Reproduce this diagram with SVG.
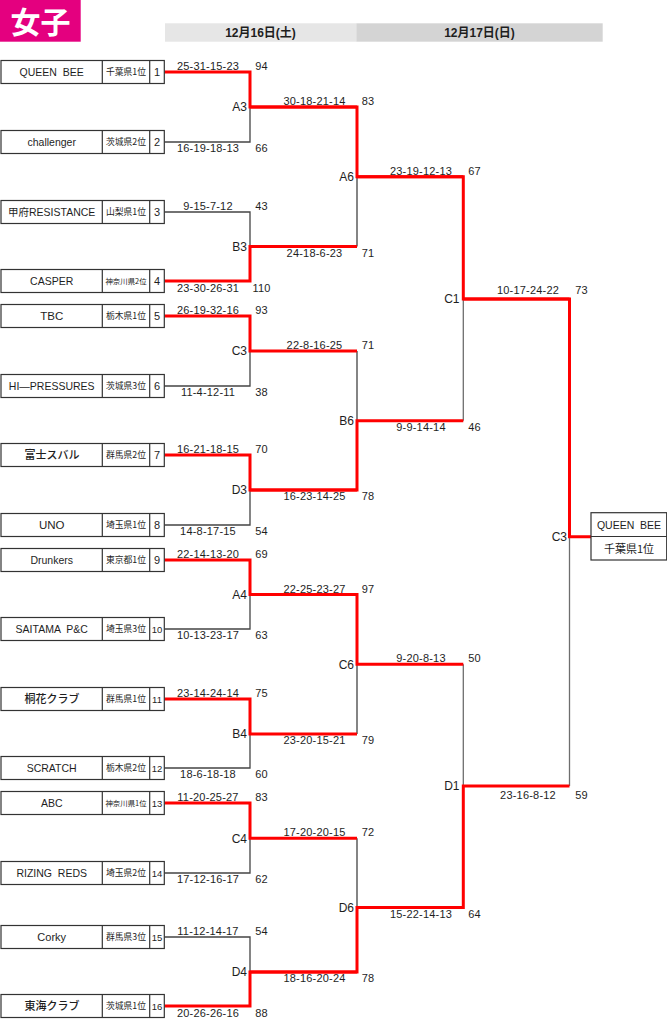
<svg xmlns="http://www.w3.org/2000/svg" width="667" height="1024" viewBox="0 0 667 1024">
<style>
.bx rect,.bx line{fill:#fff;stroke:#333;stroke-width:1.2}
text{fill:#1e1e1e}
.nm{font-family:"Liberation Sans","Noto Sans CJK JP",sans-serif;font-size:10.5px;text-anchor:middle}
.jp{font-family:"Noto Sans CJK JP",sans-serif;font-size:11px;font-weight:500;text-anchor:middle}
.pf{font-family:"Noto Sans CJK JP",sans-serif;font-size:8.8px;text-anchor:middle}
.pf6{font-size:7.4px}
.no{font-family:"Liberation Sans",sans-serif;font-size:11px;text-anchor:middle}
.no2{font-size:9.5px}
.sc{font-family:"Liberation Sans",sans-serif;font-size:11px;letter-spacing:0.2px;text-anchor:middle}
.rd{font-family:"Liberation Sans",sans-serif;font-size:12px;text-anchor:end}
.red{fill:none;stroke:#ff0000;stroke-width:3;stroke-linejoin:miter}
.gr{fill:none;stroke:#444;stroke-width:1.3}
.gr2{fill:none;stroke:#6e6e6e;stroke-width:1.3}
.hd{font-family:"Liberation Sans","Noto Sans CJK JP",sans-serif;font-size:12px;font-weight:bold;text-anchor:middle}
</style>
<rect width="667" height="1024" fill="#fff"/>
<g id="header">
<rect x="0" y="0" width="80.7" height="41.7" fill="#e4007f"/>
<text x="40.5" y="33" style="font-family:'Noto Sans CJK JP',sans-serif;font-size:30px;font-weight:bold;text-anchor:middle;fill:#fff">女子</text>
<rect x="165" y="23.3" width="191.3" height="18.4" fill="#e6e6e6"/>
<text class="hd" x="260.5" y="37">12月16日(土)</text>
<rect x="356.3" y="23.3" width="246.4" height="18.4" fill="#d4d4d4"/>
<text class="hd" x="479.5" y="37">12月17日(日)</text>
</g>
<g id="connectors">
<path class="gr" d="M164.3,142H250V107M164.3,212H250V246.5M164.3,386H250V351M164.3,525H250V490M164.3,629H250V594.5M164.3,768H250V734M164.3,873H250V838.3M164.3,937H250V972"/>
<path class="gr" d="M357,246.5V176.7M357,351V420.7M357,734V664.3M357,838.3V907.5"/>
<path class="gr2" d="M463.3,420.7V299M463.3,664.3V786M569.5,786V536.7"/>
<path class="red" d="M164.3,72H250V107H357"/>
<path class="red" d="M164.3,281H250V246.5H357"/>
<path class="red" d="M164.3,316H250V351H357"/>
<path class="red" d="M164.3,455H250V490H357"/>
<path class="red" d="M164.3,560H250V594.5H357"/>
<path class="red" d="M164.3,699H250V734H357"/>
<path class="red" d="M164.3,803H250V838.3H357"/>
<path class="red" d="M164.3,1006H250V972H357"/>
<path class="red" d="M250,107H357V176.7H463.3"/>
<path class="red" d="M250,490H357V420.7H463.3"/>
<path class="red" d="M250,594.5H357V664.3H463.3"/>
<path class="red" d="M250,972H357V907.5H463.3"/>
<path class="red" d="M357,176.7H463.3V299H569.5"/>
<path class="red" d="M357,907.5H463.3V786H569.5"/>
<path class="red" d="M463.3,299H569.5V536.7H591"/>
</g>
<g id="team1" class="bx"><rect x="1" y="60.5" width="163.3" height="23"/><line x1="102.3" y1="60.5" x2="102.3" y2="83.5"/><line x1="149.7" y1="60.5" x2="149.7" y2="83.5"/><text class="nm" x="51.7" y="75.8" xml:space="preserve">QUEEN  BEE</text><text class="pf" x="126" y="75.2">千葉県1位</text><text class="no" x="157" y="76">1</text></g>
<g id="team2" class="bx"><rect x="1" y="130.5" width="163.3" height="23"/><line x1="102.3" y1="130.5" x2="102.3" y2="153.5"/><line x1="149.7" y1="130.5" x2="149.7" y2="153.5"/><text class="nm" x="51.7" y="145.8">challenger</text><text class="pf" x="126" y="145.2">茨城県2位</text><text class="no" x="157" y="146">2</text></g>
<g id="team3" class="bx"><rect x="1" y="200.5" width="163.3" height="23"/><line x1="102.3" y1="200.5" x2="102.3" y2="223.5"/><line x1="149.7" y1="200.5" x2="149.7" y2="223.5"/><text class="nm" x="51.7" y="215.8">甲府RESISTANCE</text><text class="pf" x="126" y="215.2">山梨県1位</text><text class="no" x="157" y="216">3</text></g>
<g id="team4" class="bx"><rect x="1" y="269.5" width="163.3" height="23"/><line x1="102.3" y1="269.5" x2="102.3" y2="292.5"/><line x1="149.7" y1="269.5" x2="149.7" y2="292.5"/><text class="nm" x="51.7" y="284.8">CASPER</text><text class="pf pf6" x="126" y="283.8">神奈川県2位</text><text class="no" x="157" y="285">4</text></g>
<g id="team5" class="bx"><rect x="1" y="304.5" width="163.3" height="23"/><line x1="102.3" y1="304.5" x2="102.3" y2="327.5"/><line x1="149.7" y1="304.5" x2="149.7" y2="327.5"/><text class="nm" x="51.7" y="320.2" style="font-size:11.5px">TBC</text><text class="pf" x="126" y="319.2">栃木県1位</text><text class="no" x="157" y="320">5</text></g>
<g id="team6" class="bx"><rect x="1" y="374.5" width="163.3" height="23"/><line x1="102.3" y1="374.5" x2="102.3" y2="397.5"/><line x1="149.7" y1="374.5" x2="149.7" y2="397.5"/><text class="nm" x="51.7" y="389.8">HI—PRESSURES</text><text class="pf" x="126" y="389.2">茨城県3位</text><text class="no" x="157" y="390">6</text></g>
<g id="team7" class="bx"><rect x="1" y="443.5" width="163.3" height="23"/><line x1="102.3" y1="443.5" x2="102.3" y2="466.5"/><line x1="149.7" y1="443.5" x2="149.7" y2="466.5"/><text class="jp" x="52" y="459">富士スバル</text><text class="pf" x="126" y="458.2">群馬県2位</text><text class="no" x="157" y="459">7</text></g>
<g id="team8" class="bx"><rect x="1" y="513.5" width="163.3" height="23"/><line x1="102.3" y1="513.5" x2="102.3" y2="536.5"/><line x1="149.7" y1="513.5" x2="149.7" y2="536.5"/><text class="nm" x="51.7" y="529.2" style="font-size:11.5px">UNO</text><text class="pf" x="126" y="528.2">埼玉県1位</text><text class="no" x="157" y="529">8</text></g>
<g id="team9" class="bx"><rect x="1" y="548.5" width="163.3" height="23"/><line x1="102.3" y1="548.5" x2="102.3" y2="571.5"/><line x1="149.7" y1="548.5" x2="149.7" y2="571.5"/><text class="nm" x="51.7" y="563.8">Drunkers</text><text class="pf" x="126" y="563.2">東京都1位</text><text class="no" x="157" y="564">9</text></g>
<g id="team10" class="bx"><rect x="1" y="617.5" width="163.3" height="23"/><line x1="102.3" y1="617.5" x2="102.3" y2="640.5"/><line x1="149.7" y1="617.5" x2="149.7" y2="640.5"/><text class="nm" x="51.7" y="632.8" xml:space="preserve">SAITAMA  P&amp;C</text><text class="pf" x="126" y="632.2">埼玉県3位</text><text class="no no2" x="157" y="632.5">10</text></g>
<g id="team11" class="bx"><rect x="1" y="687.5" width="163.3" height="23"/><line x1="102.3" y1="687.5" x2="102.3" y2="710.5"/><line x1="149.7" y1="687.5" x2="149.7" y2="710.5"/><text class="jp" x="52" y="703">桐花クラブ</text><text class="pf" x="126" y="702.2">群馬県1位</text><text class="no no2" x="157" y="702.5">11</text></g>
<g id="team12" class="bx"><rect x="1" y="756.5" width="163.3" height="23"/><line x1="102.3" y1="756.5" x2="102.3" y2="779.5"/><line x1="149.7" y1="756.5" x2="149.7" y2="779.5"/><text class="nm" x="51.7" y="771.8">SCRATCH</text><text class="pf" x="126" y="771.2">栃木県2位</text><text class="no no2" x="157" y="771.5">12</text></g>
<g id="team13" class="bx"><rect x="1" y="791.5" width="163.3" height="23"/><line x1="102.3" y1="791.5" x2="102.3" y2="814.5"/><line x1="149.7" y1="791.5" x2="149.7" y2="814.5"/><text class="nm" x="51.7" y="806.8">ABC</text><text class="pf pf6" x="126" y="805.8">神奈川県1位</text><text class="no no2" x="157" y="806.5">13</text></g>
<g id="team14" class="bx"><rect x="1" y="861.5" width="163.3" height="23"/><line x1="102.3" y1="861.5" x2="102.3" y2="884.5"/><line x1="149.7" y1="861.5" x2="149.7" y2="884.5"/><text class="nm" x="51.7" y="876.8" xml:space="preserve">RIZING  REDS</text><text class="pf" x="126" y="876.2">埼玉県2位</text><text class="no no2" x="157" y="876.5">14</text></g>
<g id="team15" class="bx"><rect x="1" y="925.5" width="163.3" height="23"/><line x1="102.3" y1="925.5" x2="102.3" y2="948.5"/><line x1="149.7" y1="925.5" x2="149.7" y2="948.5"/><text class="nm" x="51.7" y="940.8" style="font-size:11px">Corky</text><text class="pf" x="126" y="940.2">群馬県3位</text><text class="no no2" x="157" y="940.5">15</text></g>
<g id="team16" class="bx"><rect x="1" y="994.5" width="163.3" height="23"/><line x1="102.3" y1="994.5" x2="102.3" y2="1017.5"/><line x1="149.7" y1="994.5" x2="149.7" y2="1017.5"/><text class="jp" x="52" y="1010">東海クラブ</text><text class="pf" x="126" y="1009.2">茨城県1位</text><text class="no no2" x="157" y="1009.5">16</text></g>
<g id="champion" class="bx"><rect x="591" y="512.7" width="75.7" height="47.3"/><line x1="591" y1="536.5" x2="666.7" y2="536.5"/><text class="nm" x="629" y="528.5" xml:space="preserve">QUEEN  BEE</text><text class="pf" x="629" y="552.5" style="font-size:11px">千葉県1位</text></g>
<g id="round-labels">
<text class="rd" x="247" y="111.3">A3</text>
<text class="rd" x="247" y="250.8">B3</text>
<text class="rd" x="247" y="355.3">C3</text>
<text class="rd" x="247" y="494.3">D3</text>
<text class="rd" x="247" y="598.8">A4</text>
<text class="rd" x="247" y="738.3">B4</text>
<text class="rd" x="247" y="842.6">C4</text>
<text class="rd" x="247" y="976.3">D4</text>
<text class="rd" x="354" y="181">A6</text>
<text class="rd" x="354" y="425">B6</text>
<text class="rd" x="354" y="668.6">C6</text>
<text class="rd" x="354" y="911.8">D6</text>
<text class="rd" x="459.5" y="303.3">C1</text>
<text class="rd" x="459.5" y="790.3">D1</text>
<text class="rd" x="567" y="541">C3</text>
</g>
<g id="scores">
<text class="sc" x="208" y="70">25-31-15-23</text><text class="sc" x="261.5" y="70">94</text>
<text class="sc" x="208" y="151.7">16-19-18-13</text><text class="sc" x="261.5" y="151.7">66</text>
<text class="sc" x="208" y="210">9-15-7-12</text><text class="sc" x="261.5" y="210">43</text>
<text class="sc" x="208" y="291.5">23-30-26-31</text><text class="sc" x="261.5" y="291.5">110</text>
<text class="sc" x="208" y="314">26-19-32-16</text><text class="sc" x="261.5" y="314">93</text>
<text class="sc" x="208" y="396">11-4-12-11</text><text class="sc" x="261.5" y="396">38</text>
<text class="sc" x="208" y="453">16-21-18-15</text><text class="sc" x="261.5" y="453">70</text>
<text class="sc" x="208" y="535">14-8-17-15</text><text class="sc" x="261.5" y="535">54</text>
<text class="sc" x="208" y="558">22-14-13-20</text><text class="sc" x="261.5" y="558">69</text>
<text class="sc" x="208" y="639">10-13-23-17</text><text class="sc" x="261.5" y="639">63</text>
<text class="sc" x="208" y="697">23-14-24-14</text><text class="sc" x="261.5" y="697">75</text>
<text class="sc" x="208" y="778">18-6-18-18</text><text class="sc" x="261.5" y="778">60</text>
<text class="sc" x="208" y="801">11-20-25-27</text><text class="sc" x="261.5" y="801">83</text>
<text class="sc" x="208" y="883">17-12-16-17</text><text class="sc" x="261.5" y="883">62</text>
<text class="sc" x="208" y="935">11-12-14-17</text><text class="sc" x="261.5" y="935">54</text>
<text class="sc" x="208" y="1016.5">20-26-26-16</text><text class="sc" x="261.5" y="1016.5">88</text>
<text class="sc" x="314.5" y="105">30-18-21-14</text><text class="sc" x="368" y="105">83</text>
<text class="sc" x="314.5" y="256.5">24-18-6-23</text><text class="sc" x="368" y="256.5">71</text>
<text class="sc" x="314.5" y="349">22-8-16-25</text><text class="sc" x="368" y="349">71</text>
<text class="sc" x="314.5" y="500">16-23-14-25</text><text class="sc" x="368" y="500">78</text>
<text class="sc" x="314.5" y="592.5">22-25-23-27</text><text class="sc" x="368" y="592.5">97</text>
<text class="sc" x="314.5" y="744">23-20-15-21</text><text class="sc" x="368" y="744">79</text>
<text class="sc" x="314.5" y="836.3">17-20-20-15</text><text class="sc" x="368" y="836.3">72</text>
<text class="sc" x="314.5" y="982">18-16-20-24</text><text class="sc" x="368" y="982">78</text>
<text class="sc" x="421" y="174.7">23-19-12-13</text><text class="sc" x="474.5" y="174.7">67</text>
<text class="sc" x="421" y="430.5">9-9-14-14</text><text class="sc" x="474.5" y="430.5">46</text>
<text class="sc" x="421" y="662.3">9-20-8-13</text><text class="sc" x="474.5" y="662.3">50</text>
<text class="sc" x="421" y="917.7">15-22-14-13</text><text class="sc" x="474.5" y="917.7">64</text>
<text class="sc" x="528" y="294">10-17-24-22</text><text class="sc" x="581.5" y="294">73</text>
<text class="sc" x="528" y="799">23-16-8-12</text><text class="sc" x="581.5" y="799">59</text>
</g>
</svg>
